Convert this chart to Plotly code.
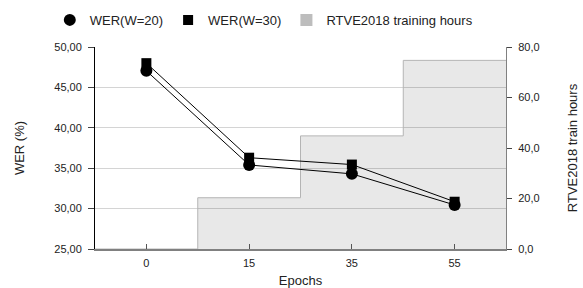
import plotly.graph_objects as go

epochs = ["0", "15", "35", "55"]
wer_w20 = [47.05, 35.4, 34.3, 30.45]
wer_w30 = [48.0, 36.3, 35.45, 30.85]
train_hours = [0.0, 20.3, 44.8, 74.7]

idx = list(range(len(epochs)))
FONT = "Liberation Sans, Arial, sans-serif"

# step area: each category's hours occupies its own band [i-0.5, i+0.5]
step_x = [i - 0.5 for i in idx] + [idx[-1] + 0.5]
step_y = train_hours + [train_hours[-1]]

fig = go.Figure()
fig.add_trace(go.Scatter(
    x=step_x, y=step_y, mode="lines", line=dict(shape="hv", color="#b4b4b4", width=1),
    fill="tozeroy", fillcolor="rgba(0,0,0,0.09)", yaxis="y", showlegend=False, hoverinfo="skip"))

fig.add_trace(go.Scatter(x=idx, y=wer_w20, mode="lines+markers", yaxis="y2",
                         line=dict(color="black", width=1),
                         marker=dict(symbol="circle", size=12, color="black"), showlegend=False))
fig.add_trace(go.Scatter(x=idx, y=wer_w30, mode="lines+markers", yaxis="y2",
                         line=dict(color="black", width=1),
                         marker=dict(symbol="square", size=10, color="black"), showlegend=False))

# legend entries
fig.add_trace(go.Scatter(x=[None], y=[None], mode="markers", name="WER(W=20)", yaxis="y2",
                         marker=dict(symbol="circle", size=12, color="black")))
fig.add_trace(go.Scatter(x=[None], y=[None], mode="markers", name="WER(W=30)", yaxis="y2",
                         marker=dict(symbol="square", size=10, color="black")))
fig.add_trace(go.Scatter(x=[None], y=[None], mode="markers", name="RTVE2018 training hours", yaxis="y2",
                         marker=dict(symbol="square", size=12, color="#bdbdbd")))

fig.update_layout(
    width=583, height=288,
    margin=dict(l=95, r=77, t=47, b=39, autoexpand=False),
    paper_bgcolor="white", plot_bgcolor="white",
    separators=",.",
    font=dict(family=FONT, size=11, color="#222"),
    showlegend=True,
    legend=dict(orientation="h", x=-0.11, xanchor="left",
                y=1.134, yanchor="middle",
                font=dict(size=13, color="#222"), itemwidth=30, tracegroupgap=0),
    xaxis=dict(range=[-0.5, 3.5], tickvals=idx, ticktext=epochs, showgrid=False, zeroline=False,
               showline=True, linecolor="#808080", linewidth=1.5,
               ticks="inside", ticklen=5, tickcolor="#555", ticklabelstandoff=3,
               title=dict(text="Epochs", font=dict(size=13), standoff=8)),
    yaxis=dict(side="right", range=[0, 80], tickvals=[0, 20, 40, 60, 80], tickformat=".1f",
               showgrid=False, zeroline=False, showline=True, linecolor="#808080", linewidth=1,
               ticks="outside", ticklen=5, tickcolor="#444", ticklabelstandoff=4,
               title=dict(text="RTVE2018 train hours", font=dict(size=13), standoff=29)),
    yaxis2=dict(side="left", overlaying="y", range=[25, 50], tickvals=[25, 30, 35, 40, 45, 50],
                tickformat=".2f", showgrid=True, gridcolor="#d4d4d4", zeroline=False,
                showline=True, linecolor="black", linewidth=1,
                ticks="outside", ticklen=6, tickcolor="#444", ticklabelstandoff=4,
                title=dict(text="WER (%)", font=dict(size=13), standoff=26)),
)

fig.write_html("out.html", config={"displayModeBar": False},
               post_script="document.body.style.margin='0';")
